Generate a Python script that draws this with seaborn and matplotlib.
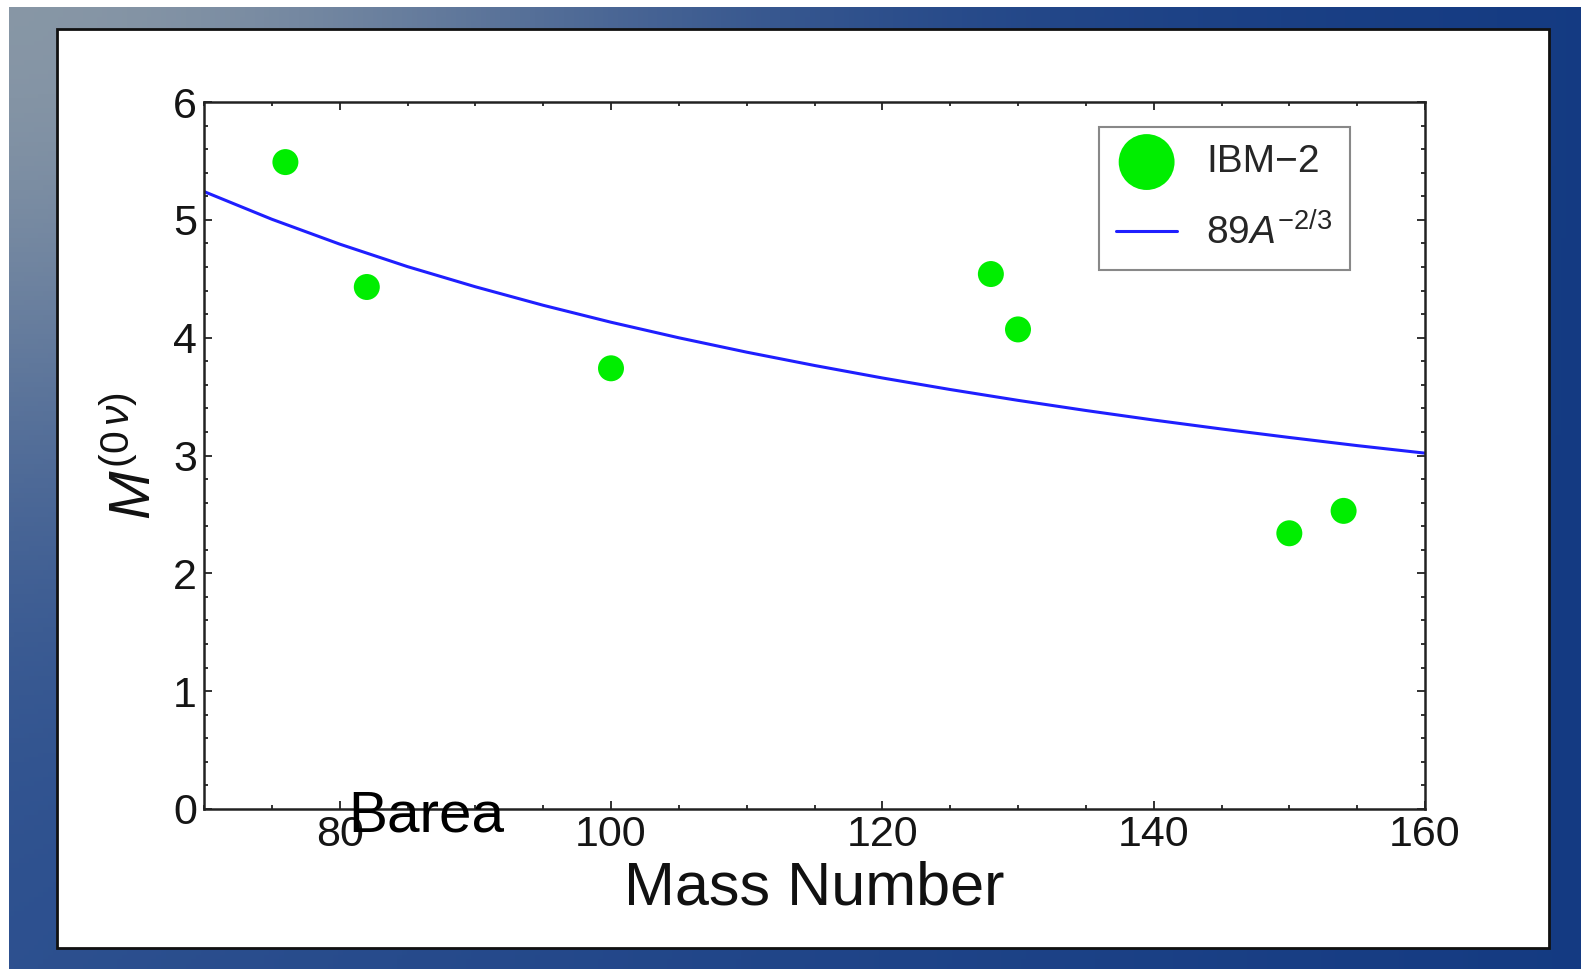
import numpy as np
import matplotlib
matplotlib.use("Agg")
import matplotlib.pyplot as plt
import seaborn as sns
from matplotlib.patches import Rectangle
from matplotlib.ticker import MultipleLocator

# IBM-2 nuclear matrix elements
mass_number = [76, 82, 100, 128, 130, 150, 154]
nme_ibm2 = [5.49, 4.43, 3.74, 4.54, 4.07, 2.34, 2.53]

# blue reference curve, sampled every 5 mass units
curve_a = [70, 75, 80, 85, 90, 95, 100, 105, 110, 115, 120,
           125, 130, 135, 140, 145, 150, 155, 160]
curve_m = [5.24, 5.005, 4.794, 4.603, 4.432, 4.275, 4.131, 3.999, 3.877, 3.764,
           3.658, 3.56, 3.468, 3.382, 3.301, 3.225, 3.153, 3.084, 3.02]

x_ticks = [80, 100, 120, 140, 160]
y_ticks = [0, 1, 2, 3, 4, 5, 6]

W, H = 1581, 969

sns.set_theme(style="ticks")
plt.rcParams["font.family"] = ["Liberation Sans", "DejaVu Sans"]
plt.rcParams["mathtext.fontset"] = "custom"
plt.rcParams["mathtext.rm"] = "Liberation Sans"
plt.rcParams["mathtext.it"] = "Liberation Sans:italic"

fig = plt.figure(figsize=(W / 100, H / 100), dpi=100, facecolor="white")

# slide background gradient
bg = fig.add_axes([9 / W, 0, 1 - 9 / W, 1 - 7 / H], zorder=-1)
bg.axis("off")
u = np.linspace(0, 1, 320)[None, :]
v = np.linspace(0, 1, 200)[:, None]
light = np.array([0.53, 0.59, 0.65])
left_blue = np.array([0.17, 0.31, 0.56])
right_blue = np.array([0.08, 0.23, 0.51])
base = left_blue[None, None, :] * (1 - u[..., None]) + right_blue[None, None, :] * u[..., None]
w_light = np.exp(-((u / 0.4) ** 2 + (v / 0.5) ** 2))[..., None]
img = light[None, None, :] * w_light + base * (1 - w_light)
bg.imshow(img, aspect="auto", extent=[0, 1, 0, 1], origin="upper")
bg.set_xlim(0, 1)
bg.set_ylim(0, 1)

# white panel
fig.patches.append(Rectangle((57 / W, 1 - 948 / H), (1549 - 57) / W, (948 - 29) / H,
                             transform=fig.transFigure, facecolor="white",
                             edgecolor="#111111", lw=2, zorder=1))

ax = fig.add_axes([204 / W, 1 - 809 / H, (1425 - 204) / W, (809 - 102) / H], zorder=2)
ax.set_facecolor("white")

sns.lineplot(x=curve_a, y=curve_m, color="#1f1fff", lw=2.2, ax=ax,
             label=r"$89A^{-2/3}$", zorder=2)
sns.scatterplot(x=mass_number, y=nme_ibm2, color="#00ee00", s=350, edgecolor="none",
                ax=ax, label="IBM\u22122", zorder=3)

ax.set_xlim(70, 160)
ax.set_ylim(0, 6)
ax.set_xticks(x_ticks)
ax.set_yticks(y_ticks)
ax.xaxis.set_minor_locator(MultipleLocator(5))
ax.yaxis.set_minor_locator(MultipleLocator(0.2))
ax.tick_params(which="both", direction="in", top=True, right=True,
               width=1.3, color="#222222")
ax.tick_params(which="major", length=6, labelsize=31, labelcolor="#151515")
ax.tick_params(axis="x", which="major", pad=4)
ax.tick_params(axis="y", which="major", pad=5)
ax.tick_params(which="minor", length=3)
for sp in ax.spines.values():
    sp.set_linewidth(1.8)
    sp.set_color("#222222")

ax.set_xlabel("Mass Number", fontsize=44, labelpad=4, color="#111111")
ax.set_ylabel(r"$M^{(0\,\nu)}$", fontsize=42, color="#111111")
ax.yaxis.set_label_coords(-0.034, 0.5)

handles, labels = ax.get_legend_handles_labels()
order = [labels.index("IBM\u22122"), labels.index(r"$89A^{-2/3}$")]
leg = ax.legend([handles[i] for i in order], [labels[i] for i in order],
                loc="upper left", bbox_to_anchor=(0.733, 0.965), fontsize=28,
                markerscale=2.15, frameon=True, fancybox=False, edgecolor="#888888",
                framealpha=1, handlelength=1.55, handletextpad=0.75,
                labelspacing=0.85, borderpad=0.45, borderaxespad=0)
leg.get_frame().set_linewidth(1.5)

fig.text(348 / W, 1 - 832 / H, "Barea", fontsize=42, color="black",
         va="baseline", ha="left", zorder=5)

fig.savefig("out.png", dpi=100, facecolor="white")
